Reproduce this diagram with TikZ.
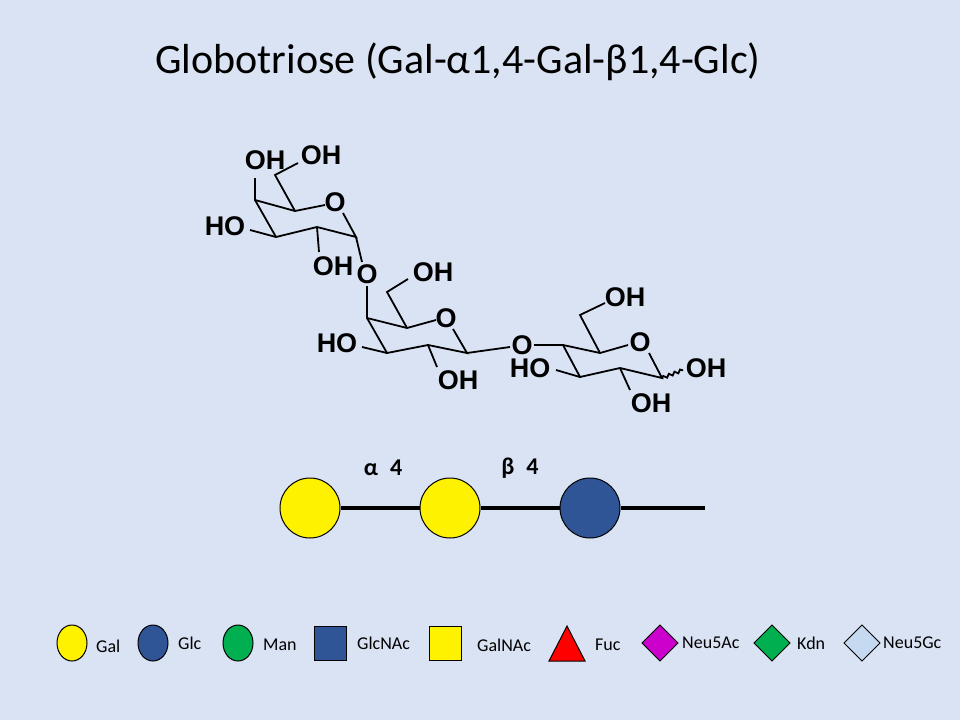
\documentclass[tikz,border=0pt]{standalone}
\usepackage{fontspec}
\setmainfont{Carlito}
\newfontfamily\chem{Liberation Sans}
\usetikzlibrary{shapes.geometric,decorations.pathmorphing}
\begin{document}
\begin{tikzpicture}[x=1pt,y=-1pt,
  bond/.style={line width=1.8pt},
  atm/.style={font=\chem\bfseries\fontsize{27}{27}\selectfont,inner sep=0pt},
  link/.style={line width=4pt},
  res/.style={circle,draw=black,line width=1pt,minimum size=60pt,inner sep=0},
  leg/.style={draw=black,line width=1pt,inner sep=0},
  lt/.style={font=\fontsize{18}{18}\selectfont,anchor=west,inner sep=0}]
\fill[fill={rgb,255:red,218;green,227;blue,243}] (0,0) rectangle (960,720);
\node[font=\fontsize{42}{42}\selectfont] (title) at (458,62) {Globotriose (Gal-α1,4-Gal-β1,4-Glc)};
% top ring
\node[atm] (o1) at (335,202) {O};
\node[atm] (oh1a) at (265,160) {OH};
\node[atm] (oh1b) at (321,155) {OH};
\node[atm] (ho1) at (225,226) {HO};
\node[atm] (oh1c) at (333,266) {OH};
\node[atm] (og1) at (367,274) {O};
\draw[bond] (255,178) -- (255,200) -- (295,211) -- (325,205);
\draw[bond] (343,213) -- (356,237) -- (317,227) -- (276,237) -- (255,200);
\draw[bond] (295,211) -- (275,175) -- (298,163);
\draw[bond] (250,230) -- (276,237);
\draw[bond] (317,227) -- (319,252);
\draw[bond] (356,237) -- (362,262);
% middle ring
\node[atm] (o2) at (446,318) {O};
\node[atm] (oh2a) at (433,272) {OH};
\node[atm] (ho2) at (337,343) {HO};
\node[atm] (oh2b) at (458,380) {OH};
\node[atm] (og2) at (522,345) {O};
\draw[bond] (367,286) -- (367,318) -- (407,328) -- (436,320);
\draw[bond] (453,329) -- (467,353) -- (428,345) -- (387,353) -- (367,318);
\draw[bond] (407,328) -- (387,292) -- (408,279);
\draw[bond] (362,347) -- (387,353);
\draw[bond] (428,345) -- (437,367);
\draw[bond] (467,353) -- (510,347);
% right ring
\node[atm] (o3) at (640,342) {O};
\node[atm] (oh3a) at (625,297) {OH};
\node[atm] (ho3) at (530,368) {HO};
\node[atm] (oh3b) at (651,403) {OH};
\node[atm] (oh3c) at (706,368) {OH};
\draw[bond] (534,345) -- (563,345) -- (600,353) -- (628,345);
\draw[bond] (649,353) -- (662,378) -- (620,368) -- (580,377) -- (563,345);
\draw[bond] (600,353) -- (580,315) -- (605,303);
\draw[bond] (556,370) -- (580,377);
\draw[bond] (620,368) -- (630,390);
\draw[bond,decorate,decoration={snake,amplitude=1.5pt,segment length=6pt}] (662,378) -- (683,370);
% glycan
\node[res,fill=yellow] (g1) at (310,508) {};
\node[res,fill=yellow] (g2) at (450,508) {};
\node[res,fill={rgb,255:red,47;green,85;blue,151}] (g3) at (590,508) {};
\coordinate (red) at (705,508);
\draw[link] (g1) -- (g2);
\draw[link] (g2) -- (g3);
\draw[link] (g3) -- (red);
\node[font=\bfseries\fontsize{24}{24}\selectfont] (l1) at (383,468) {α\,\,\,4};
\node[font=\bfseries\fontsize{24}{24}\selectfont] (l2) at (520,468) {β\,\,\,4};
% legend
\node[leg,ellipse,fill=yellow,minimum width=30pt,minimum height=36pt] (s1) at (72,643) {};
\node[lt] (t1) at (96,646) {Gal};
\node[leg,ellipse,fill={rgb,255:red,47;green,85;blue,151},minimum width=30pt,minimum height=36pt] (s2) at (153,643) {};
\node[lt] (t2) at (178,643) {Glc};
\node[leg,ellipse,fill={rgb,255:red,0;green,176;blue,80},minimum width=30pt,minimum height=36pt] (s3) at (238,643) {};
\node[lt] (t3) at (263,645) {Man};
\node[leg,rectangle,fill={rgb,255:red,47;green,85;blue,151},minimum width=32pt,minimum height=34pt] (s4) at (330,643) {};
\node[lt] (t4) at (357,643) {GlcNAc};
\node[leg,rectangle,fill=yellow,minimum width=32pt,minimum height=34pt] (s5) at (445,643) {};
\node[lt] (t5) at (477,645) {GalNAc};
\path[leg,fill=red] (567,626) -- (585,661) -- (549,661) -- cycle;
\node[lt] (t6) at (595,645) {Fuc};
\path[leg,fill={rgb,255:red,204;green,0;blue,204}] (660,625) -- (678,643) -- (660,661) -- (642,643) -- cycle;
\node[lt] (t7) at (682,643) {Neu5Ac};
\path[leg,fill={rgb,255:red,0;green,176;blue,80}] (772,625) -- (790,643) -- (772,661) -- (754,643) -- cycle;
\node[lt] (t8) at (797,643) {Kdn};
\path[leg,fill={rgb,255:red,197;green,218;blue,240}] (862,625) -- (880,643) -- (862,661) -- (844,643) -- cycle;
\node[lt] (t9) at (883,643) {Neu5Gc};
\end{tikzpicture}
\end{document}
